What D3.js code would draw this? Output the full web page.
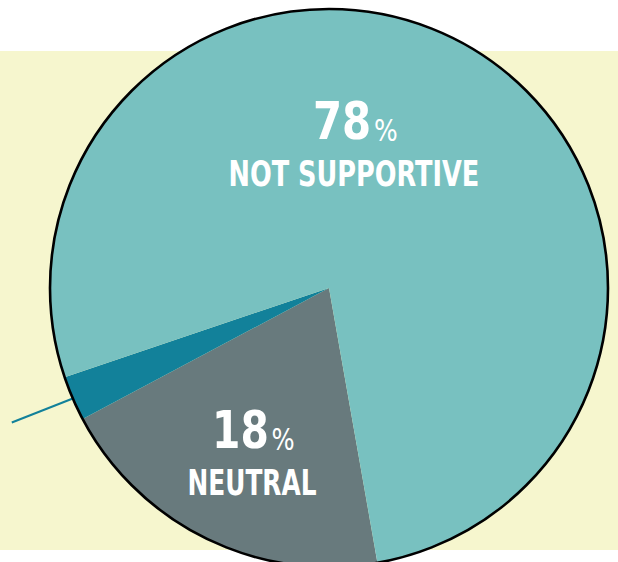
<!DOCTYPE html>
<html>
<head>
<meta charset="utf-8">
<script src="https://cdn.jsdelivr.net/npm/d3@7"></script>
<style>
  html, body { margin: 0; padding: 0; background: #ffffff; }
  svg { display: block; }
</style>
</head>
<body>
<svg id="chart" width="618" height="562"></svg>
<script>
// ---- data (shares as drawn in the picture, labels as printed) ----
const categories = ["Neutral", "Supportive", "Not supportive"];
const values = [20.0, 2.6, 77.4];
const percentLabels = ["18", "", "78"];
const nameLabels = ["NEUTRAL", "", "NOT SUPPORTIVE"];
const colors = ["#687a7d", "#12819a", "#78c1c0"];

// ---- layout ----
const W = 618, H = 562;
const cx = 329, cy = 288, R = 279;
const startDeg = 170;

const svg = d3.select("#chart");

// pale yellow band
svg.append("rect")
  .attr("x", 0).attr("y", 51)
  .attr("width", W).attr("height", 499)
  .attr("fill", "#f6f6ce");

const pie = d3.pie()
  .sort(null)
  .value(d => d)
  .startAngle(startDeg * Math.PI / 180)
  .endAngle(startDeg * Math.PI / 180 + 2 * Math.PI);

const arc = d3.arc().innerRadius(0).outerRadius(R);
const arcs = pie(values);

const g = svg.append("g").attr("transform", `translate(${cx},${cy})`);

// leader line for the small slice
const small = arcs[1];
const lineStart = d3.arc().innerRadius(R).outerRadius(R).centroid(small);
g.append("line")
  .attr("x1", lineStart[0]).attr("y1", lineStart[1])
  .attr("x2", lineStart[0] - 61).attr("y2", lineStart[1] + 24)
  .attr("stroke", "#12819a")
  .attr("stroke-width", 2);

g.selectAll("path.slice")
  .data(arcs)
  .join("path")
  .attr("class", "slice")
  .attr("d", arc)
  .attr("fill", (d, i) => colors[i]);

// outline
g.append("circle")
  .attr("r", R)
  .attr("fill", "none")
  .attr("stroke", "#000")
  .attr("stroke-width", 2.6);

// labels
const labelPos = [
  { x: 252, numY: 448, nameY: 495, width: 80, nameW: 129 },
  null,
  { x: 354, numY: 139, nameY: 186, width: 82, nameW: 251 }
];
const font = "'Liberation Sans Narrow', 'DejaVu Sans Condensed', 'Arial Narrow', sans-serif";

// place a text so it is centred at cxT with a given width, using a horizontal scale
function fitText(sel, cxT, y, width) {
  const natural = sel.node().getComputedTextLength();
  const sx = width / natural;
  sel.attr("transform", `translate(${cxT - width / 2},${y}) scale(${sx},1)`);
}

arcs.forEach((a, i) => {
  const p = labelPos[i];
  if (!p || !percentLabels[i]) return;
  const t = svg.append("text")
    .attr("font-family", font).attr("fill", "#fff");
  t.append("tspan")
    .attr("font-weight", "bold").attr("font-size", 52)
    .text(percentLabels[i]);
  t.append("tspan")
    .attr("font-weight", "normal").attr("font-size", 31)
    .attr("dx", 3).attr("dy", 2)
    .text("%");
  fitText(t, p.x, p.numY, p.width);

  const n = svg.append("text")
    .attr("font-family", font).attr("font-weight", "bold")
    .attr("font-size", 36).attr("fill", "#fff")
    .text(nameLabels[i]);
  fitText(n, p.x, p.nameY, p.nameW);
});
</script>
</body>
</html>
